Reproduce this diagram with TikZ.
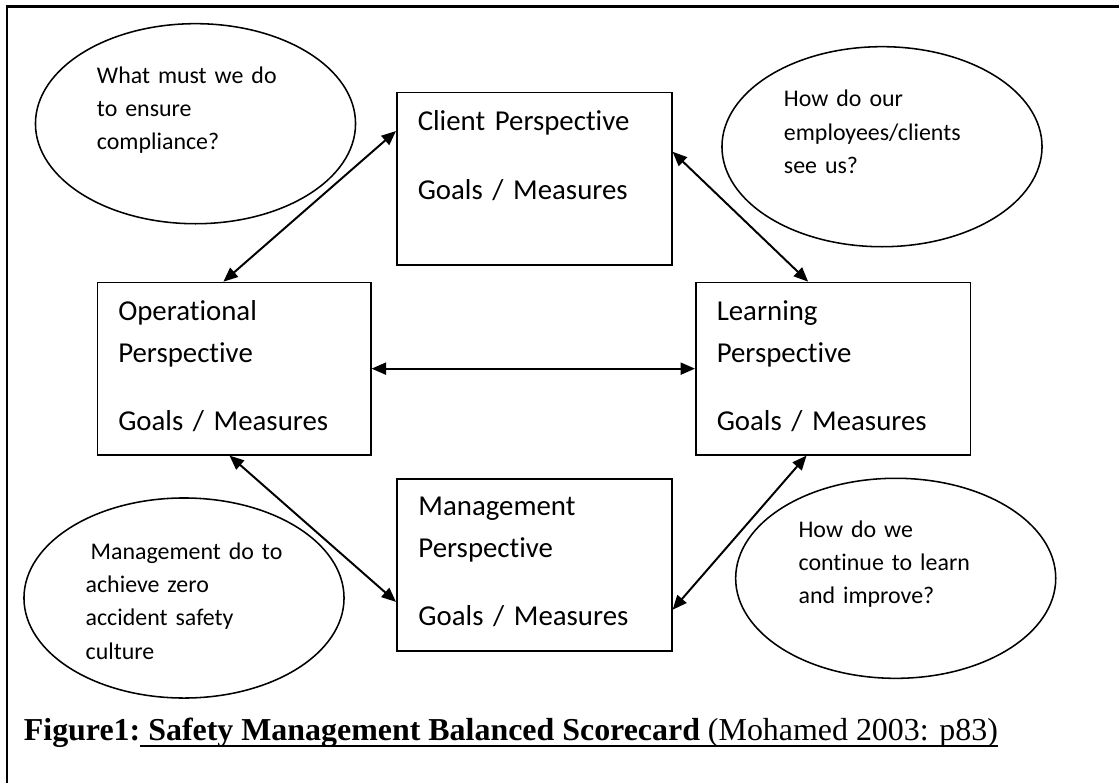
\documentclass[tikz,border=0pt]{standalone}
\usepackage{fontspec}
\setmainfont{Carlito}[Ligatures=NoCommon]
\newfontfamily\capfont{Liberation Serif}
\usetikzlibrary{shapes.geometric,arrows.meta}
\newsavebox{\ulbox}
\newcommand{\ulinetext}[1]{\sbox{\ulbox}{#1}\rlap{\rule[-\dimexpr0.1cm+1.5pt\relax]{\wd\ulbox}{1.5pt}}\usebox{\ulbox}}

\begin{document}
\begin{tikzpicture}[x=0.025cm,y=-0.025cm,
    pbox/.style={draw,line width=1.1pt,anchor=north west,align=left,inner ysep=0pt,inner xsep=0.525cm,font=\fontsize{20.5pt}{29.5pt}\selectfont},
    bubble/.style={draw,ellipse,line width=1.1pt,minimum width=8cm,minimum height=5cm,inner sep=0pt,align=left,text height=0.3cm,font=\fontsize{17pt}{23.7pt}\selectfont},
    link/.style={{Triangle[length=0.36cm,width=0.3cm]}-{Triangle[length=0.36cm,width=0.3cm]},line width=1.4pt}]

        % Frame
        \useasboundingbox (0,0) rectangle (1119,783);
        \draw[line width=1.8pt] (7,783) -- (7,6.7) -- (1119,6.7);

        % Perspectives
        \node[pbox,text width=5.825cm,text height=0.9575cm,text depth=3.35cm] (client) at (396,91.7) {Client Perspective\\[0.675cm]Goals / Measures};
        \node[pbox,text width=5.7875cm,text height=0.9575cm,text depth=3.35cm] (oper) at (96.5,281.7) {Operational\\Perspective\\[0.675cm]Goals / Measures};
        \node[pbox,text width=5.815cm,text height=0.9575cm,text depth=3.35cm] (learn) at (695,281.7) {Learning\\Perspective\\[0.675cm]Goals / Measures};
        \node[pbox,text width=5.79cm,inner xsep=0.5425cm,text height=0.925cm,text depth=3.375cm] (mgmt) at (396,478) {Management\\Perspective\\[0.675cm]Goals / Measures};

        % Questions
        \node[bubble,text width=4.925cm,text depth=2.32cm] (comply) at (195.5,123.7) {What must we do\\to ensure\\compliance?};
        \node[bubble,text width=4.9cm,text depth=2.3cm] (see) at (882,146.7) {How do our\\employees/clients\\see us?};
        \node[bubble,text width=4.915cm,text depth=2.235cm] (zero) at (184,598) {\mbox{\hspace*{0.125cm}Management do to}\\achieve zero\\accident safety\\culture};
        \node[bubble,text width=4.855cm,text depth=2.35cm] (improve) at (895.7,578.3) {How do we\\continue to learn\\and improve?};

        % Links
        \draw[link] (client.161) -- (oper.97);
        \draw[link] (client.11) -- (learn.106);
        \draw[link] (oper.east) -- (learn.west);
        \draw[link] (oper.267) -- (mgmt.195);
        \draw[link] (learn.253) -- (mgmt.342);

        % Caption
        \node[anchor=base west,inner sep=0pt,font=\capfont\fontsize{22.7pt}{27pt}\selectfont] (caption) at (23.6,740.7) {\textbf{Figure1:}\ulinetext{\textbf{\ Safety Management Balanced Scorecard}\ (Mohamed 2003: p83)}};

      \end{tikzpicture}
\end{document}
